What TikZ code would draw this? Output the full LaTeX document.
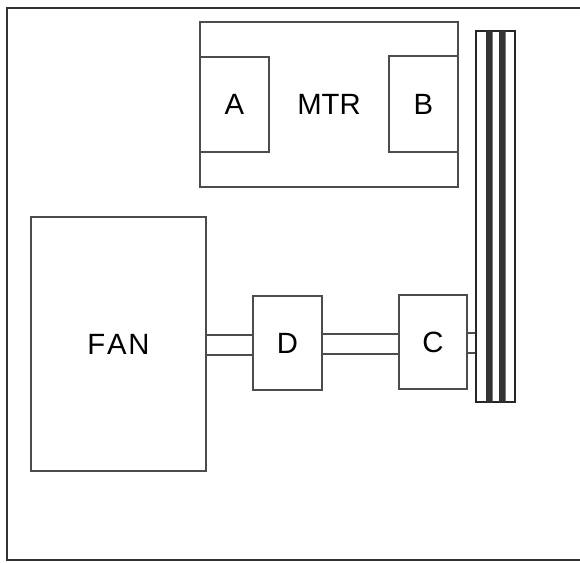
\documentclass[tikz,border=0pt]{standalone}
\usepackage{fontspec}
\setmainfont{Liberation Sans}
\usepackage{tikz}
\usetikzlibrary{positioning}
\newdimen\px \px=0.03cm

\begin{document}
\begin{tikzpicture}[x=0.03cm,y=-0.03cm,
box/.style={draw=black!70,line width=1.1pt,inner sep=0pt,font=\fontsize{25}{28}\selectfont},
pipe/.style={draw=black!70,line width=1.1pt}]
\useasboundingbox (0,0) rectangle (580,563);
\draw[black!80,line width=1.8pt](580,8)--(7,8)--(7,560)--(580,560);
\node[box,minimum width=258*\px,minimum height=165*\px](mtr) at (329,104.5){MTR};
\node[box,minimum width=69*\px,minimum height=95*\px](a) at (234.5,104.5){A};
\node[box,minimum width=69*\px,minimum height=96*\px](b) at (423.5,104){B};
\node[box,minimum width=175*\px,minimum height=254*\px](fan) at (118.5,344){F\kern1.5pt A\kern1.5pt N};
\node[box,minimum width=69*\px,minimum height=94*\px](d) at (287.5,343){D};
\node[box,minimum width=68*\px,minimum height=94*\px](c) at (433,342){C};
\node[box,draw=black!85,line width=2pt,minimum width=39*\px,minimum height=371*\px](bar) at (495.5,216.5){};
\fill[black!80](486,31)rectangle(492.5,402)(499,31)rectangle(505.5,402);
% pipes
\draw[pipe](fan.east|-0,335)--(d.west|-0,335) (fan.east|-0,355)--(d.west|-0,355);
\draw[pipe](d.east|-0,334)--(c.west|-0,334) (d.east|-0,354)--(c.west|-0,354);
\draw[pipe](c.east|-0,333)--(bar.west|-0,333) (c.east|-0,353)--(bar.west|-0,353);
\end{tikzpicture}
\end{document}
